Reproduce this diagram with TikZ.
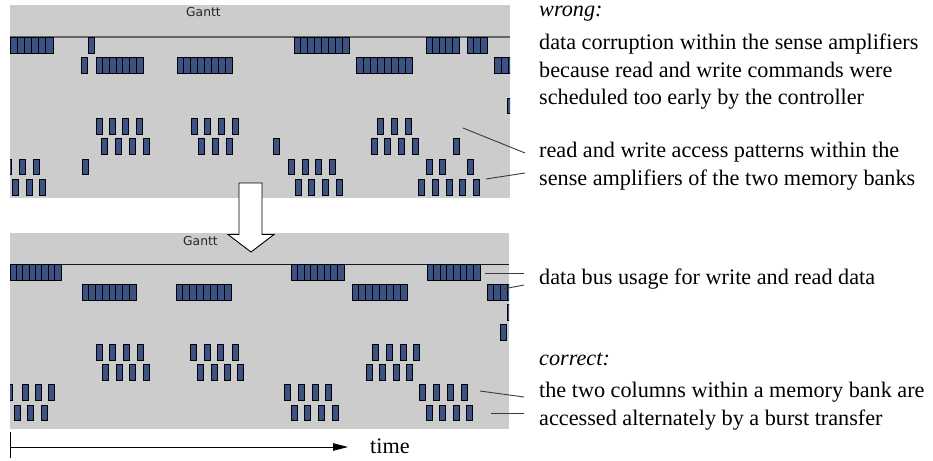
\documentclass[tikz,border=0pt]{standalone}
\usepackage{fontspec}
\setmainfont{Liberation Serif}
\newfontfamily\ganttfont{DejaVu Sans}
\usetikzlibrary{arrows.meta}

\definecolor{panelgray}{HTML}{CCCCCC}
\definecolor{cellblue}{HTML}{3C5283}
\definecolor{rulegray}{HTML}{62666B}
\definecolor{rulenavy}{HTML}{101833}
\definecolor{leadgray}{HTML}{3A3A3A}

\tikzset{
  panel/.style={fill=panelgray, draw=none},
  cell/.style={fill=cellblue, draw=black, line width=0.9pt},
  ganttlabel/.style={font=\ganttfont\fontsize{12.3}{14}\selectfont, text=black!85, inner sep=0pt, anchor=base west},
  note/.style={font=\fontsize{22.2}{27.7}\selectfont, inner sep=0pt, anchor=base west},
  leader/.style={draw=leadgray, line width=0.9pt},
  flowarrow/.style={draw=black, fill=white, line width=0.9pt, line join=miter},
  timeaxis/.style={draw=black, line width=0.9pt},
}

% a run of #3 adjacent cells between x=#1 and x=#2 in row #4
\newcommand{\burst}[4]{%
  \pgfmathsetmacro\cw{(#2-(#1))/#3}%
  \pgfmathsetmacro\ry{#4*\rowpitch}%
  \foreach \k in {1,...,#3}{%
    \draw[cell] ({#1+(\k-1)*\cw},\ry) rectangle ++(\cw,\cellh);}%
}
% a single isolated cell
\newcommand{\single}[2]{\burst{#1}{#1+6.3}{1}{#2}}
\def\cellh{15.7}

\begin{document}
\begin{tikzpicture}[x=1pt, y=-1pt]
\useasboundingbox (0,0) rectangle (933,460);

% ---------- upper chart ----------
\fill[panel] (10,5) rectangle (510,198);
\begin{scope}
  \clip (10,5) rectangle (510,198);
  \draw[rulegray, line width=1.7pt] (10,37) -- (510,37);
  \node[ganttlabel] (gantt1) at (186,16.7) {Gantt};
  \begin{scope}[shift={(0,37.3)}]
    \def\rowpitch{20.3}
    % bus rows
    \burst{10}{53}{6}{0} \single{88}{0} \burst{294}{349}{8}{0}
    \burst{426}{459}{5}{0} \burst{467}{487}{3}{0}
    \single{81.5}{1} \burst{96}{143}{7}{1} \burst{177}{232}{8}{1}
    \burst{356}{412}{8}{1} \burst{494}{515}{3}{1}
    \single{507}{3}
    % sense amplifier rows
    \foreach \x in {96,109,122,136,191,204,218,232,377,391,405}{\single{\x}{4}}
    \foreach \x in {101,115,129,143,198,212,226,273,371,384,398,412,453}{\single{\x}{5}}
    \foreach \x in {5,19,33,82,288,302,315,329,426,439,467}{\single{\x}{6}}
    \foreach \x in {12,26,39,295,308,322,336,418,432,446,459,473}{\single{\x}{7}}
  \end{scope}
\end{scope}

% ---------- lower chart ----------
\fill[panel] (10,233) rectangle (509,429);
\begin{scope}
  \clip (10,233) rectangle (509,429);
  \draw[rulenavy, line width=1pt] (10,264) -- (509,264);
  \node[ganttlabel] (gantt2) at (183,245) {Gantt};
  \begin{scope}[shift={(0,264.3)}]
    \def\rowpitch{20.1}
    \burst{10}{61}{8}{0} \burst{291}{344}{8}{0} \burst{427}{480}{8}{0}
    \burst{82}{136}{8}{1} \burst{176}{231}{8}{1} \burst{352}{407}{8}{1}
    \burst{487}{514}{4}{1}
    \single{507}{2}
    \single{500.5}{3}
    \foreach \x in {96,109,123,137,190,204,217,232,372,386,400,413}{\single{\x}{4}}
    \foreach \x in {102,116,129,143,197,211,224,237,366,379,393,406}{\single{\x}{5}}
    \foreach \x in {6.5,22,35,48,284,298,312,325,419,433,447,461}{\single{\x}{6}}
    \foreach \x in {14,27,41,291,304,318,332,426,439,453,466}{\single{\x}{7}}
  \end{scope}
\end{scope}

% ---------- block arrow between the charts ----------
\draw[flowarrow] (239,183) -- (262,183) -- (262,234.5) -- (274,234.5)
  -- (251,252) -- (228,234.5) -- (239,234.5) -- cycle;

% ---------- annotations ----------
\node[note] (wrong) at (539,17) {\itshape wrong:};
\node[note] (w1) at (539,49) {data corruption within the sense amplifiers};
\node[note] (w2) at (539,77) {because read and write commands were};
\node[note] (w3) at (539,104.5) {scheduled too early by the controller};
\node[note] (p1) at (539,157) {read and write access patterns within the};
\node[note] (p2) at (539,185) {sense amplifiers of the two memory banks};
\node[note] (bus) at (539,284) {data bus usage for write and read data};
\node[note] (correct) at (539,365) {\itshape correct:};
\node[note] (c1) at (539,397) {the two columns within a memory bank are};
\node[note] (c2) at (539,425) {accessed alternately by a burst transfer};

% leader lines
\coordinate (a1) at (463,128);  \coordinate (b1) at (525,153);
\coordinate (a2) at (486,179);  \coordinate (b2) at (525,173);
\coordinate (a3) at (485,273);  \coordinate (b3) at (524,273);
\coordinate (a4) at (503,289);  \coordinate (b4) at (524,285);
\coordinate (a5) at (480,391);  \coordinate (b5) at (524,397);
\coordinate (a6) at (491,413);  \coordinate (b6) at (524,413);
\foreach \i in {1,...,6}{\draw[leader] (a\i) -- (b\i);}

% ---------- time axis ----------
\coordinate (t0) at (10.7,447);
\coordinate (t1) at (348,447);
\coordinate (tk0) at (10.7,432);
\coordinate (tk1) at (10.7,458);
\draw[timeaxis] (tk0) -- (tk1);
\draw[timeaxis, -{Triangle[length=15pt,width=7.5pt]}] (t0) -- (t1);
\node[note] (time) at (370,453) {time};
\end{tikzpicture}
\end{document}
